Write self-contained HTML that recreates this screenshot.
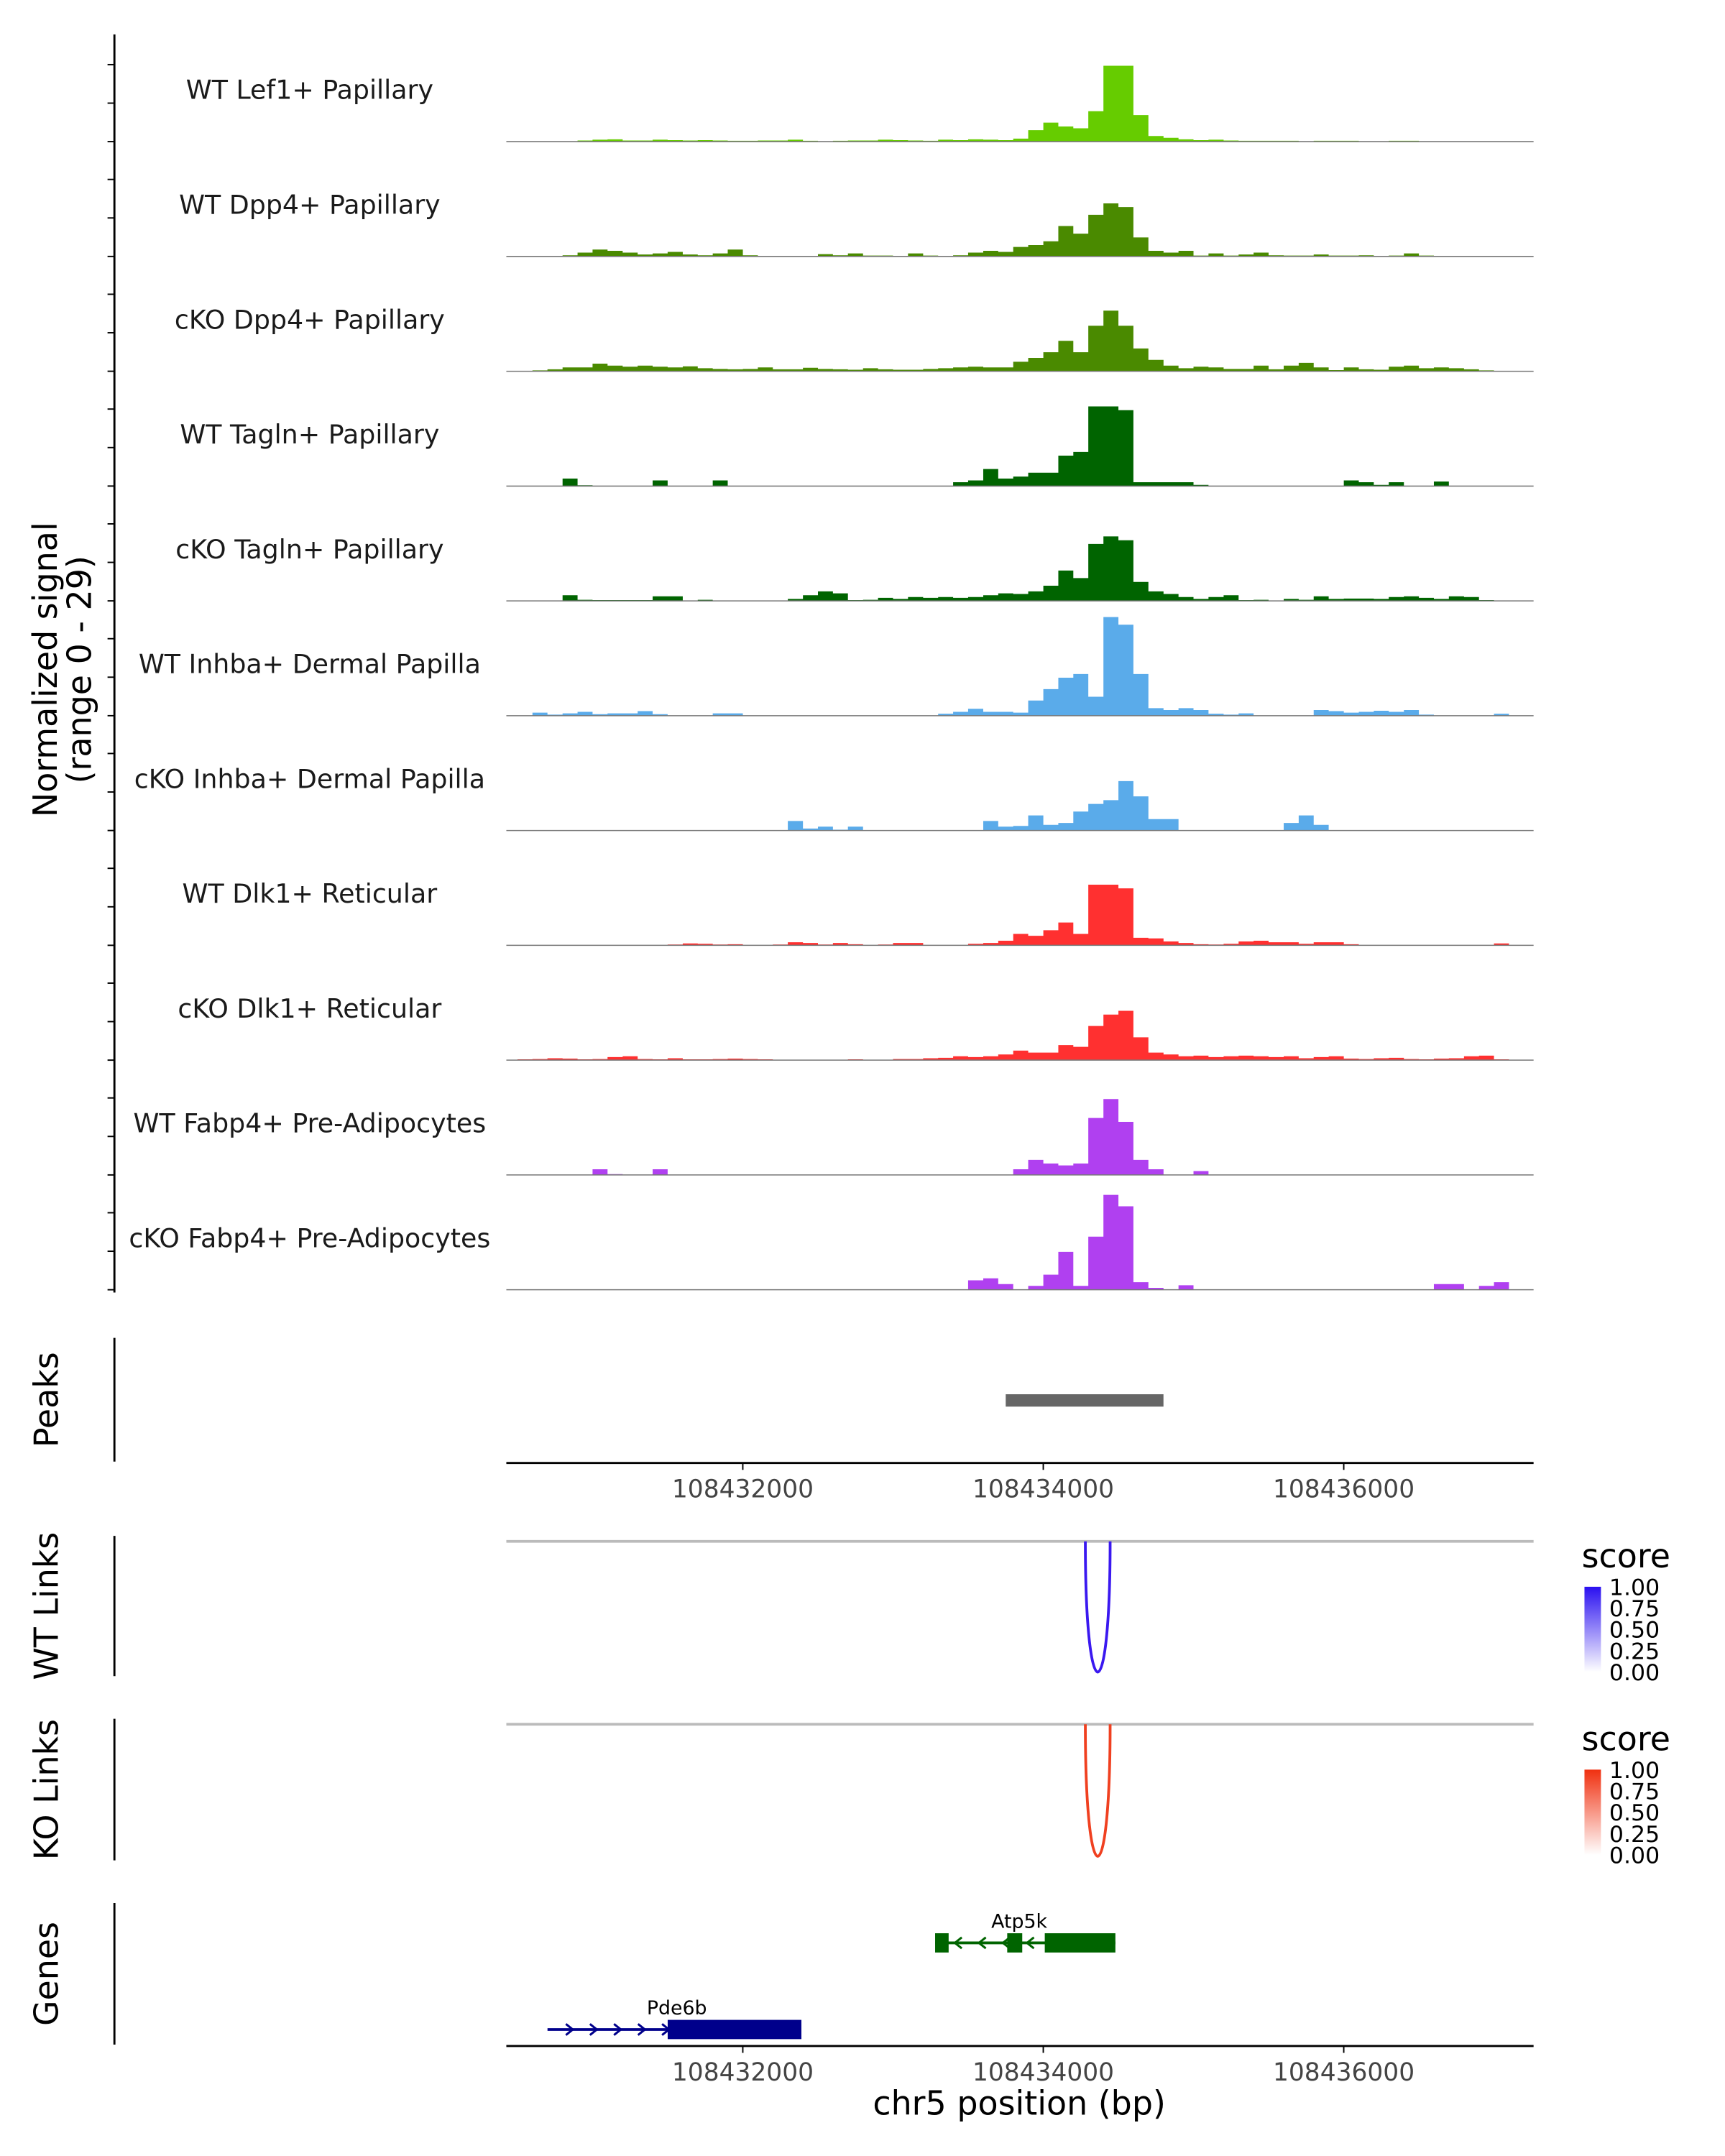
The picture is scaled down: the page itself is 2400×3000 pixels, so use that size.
<!DOCTYPE html>
<html><head><meta charset="utf-8"><style>
html,body{margin:0;padding:0;background:#fff}
svg{display:block}
text{font-family:"DejaVu Sans","Liberation Sans",sans-serif}
</style></head><body>
<svg id="chart" width="2400" height="3000" viewBox="0 0 1254 1568" xmlns="http://www.w3.org/2000/svg">
<g id="tracks"></g>
<g id="rest"></g>
</svg>
<script>
const binStart = 108430500;
const binSize = 100;
const trackNames = ["WT Lef1+ Papillary","WT Dpp4+ Papillary","cKO Dpp4+ Papillary","WT Tagln+ Papillary","cKO Tagln+ Papillary","WT Inhba+ Dermal Papilla","cKO Inhba+ Dermal Papilla","WT Dlk1+ Reticular","cKO Dlk1+ Reticular","WT Fabp4+ Pre-Adipocytes","cKO Fabp4+ Pre-Adipocytes"];
const trackColors = ["#66cc00","#4a8a00","#4a8a00","#006400","#006400","#5aabea","#5aabea","#ff3030","#ff3030","#b040f0","#b040f0"];
const sLef1 = [0,0,0,0,0.3,0.5,0.6,0.3,0.3,0.5,0.4,0.3,0.4,0.3,0.2,0.2,0.3,0.3,0.5,0.2,0,0.2,0.3,0.3,0.5,0.4,0.3,0.2,0.5,0.4,0.6,0.5,0.4,0.8,3,5,4,3.5,8,20,20,7,1.5,1,0.6,0.4,0.5,0.3,0.2,0.2,0.2,0.2,0.1,0.2,0.2,0.2,0.1,0.1,0.2,0.2,0.1,0.1,0.1,0.1,0.1,0.1,0,0];
const sWtDpp4 = [0,0,0,0.3,1,1.8,1.5,1,0.5,0.8,1.2,0.5,0.3,0.8,1.8,0.3,0,0,0,0,0.6,0.3,0.8,0.2,0.2,0,0.8,0.2,0,0.3,1,1.5,1.2,2.5,3,4,8,6,11,14,13,5,1.5,1,1.5,0.2,0.8,0.2,0.5,1,0.3,0.2,0.2,0.5,0.2,0.2,0.3,0,0.2,0.8,0.2,0,0,0,0,0,0,0];
const sKoDpp4 = [0,0.2,0.5,1,1,2,1.5,1.2,1.5,1.2,1,1.3,0.8,0.6,0.5,0.6,1,0.5,0.5,0.9,0.6,0.5,0.4,0.8,0.5,0.4,0.4,0.6,0.8,1,1.2,1,1,2.5,3.5,5,8,5,12,16,12,6,3,1.5,0.8,1.2,1,0.6,0.6,1.5,0.5,1.5,2.2,1,0.3,1,0.5,0.4,1.2,1.5,0.8,1,0.8,0.5,0.2,0,0,0];
const sWtTagln = [0,0,0,2,0.2,0,0,0,0,1.5,0,0,0,1.5,0,0,0,0,0,0,0,0,0,0,0,0,0,0,0,1,1.5,4.5,2,2.5,3.5,3.5,8,9,21,21,20,1,1,1,1,0.3,0,0,0,0,0,0,0,0,0,1.5,1,0.3,1,0,0,1.2,0,0,0,0,0,0];
const sKoTagln = [0,0,0,1.5,0.3,0.2,0.2,0.2,0.2,1.2,1.2,0,0.3,0,0,0,0,0,0.5,1.5,2.5,2,0.2,0.3,0.8,0.5,1,0.8,1,0.8,1,1.5,2,1.8,2.5,4,8,6,15,17,16,5,2.5,1.8,1,0.5,1,1.5,0.2,0.3,0,0.5,0.3,1.2,0.5,0.6,0.6,0.5,1,1.2,0.8,0.5,1.2,1,0.2,0,0,0];
const sWtInhba = [0,0.8,0.3,0.6,1,0.4,0.6,0.6,1.2,0.4,0,0,0,0.6,0.6,0,0,0,0,0,0,0,0,0,0,0,0,0,0.5,1,1.8,1,1,0.8,4,7,10,11,5,26,24,11,2,1.5,2,1.5,0.5,0.3,0.6,0,0,0,0,1.5,1.2,0.8,1,1.3,1,1.5,0.3,0,0,0,0,0.5,0,0];
const sKoInhba = [0,0,0,0,0,0,0,0,0,0,0,0,0,0,0,0,0,0,2.5,0.5,1,0.2,1,0,0,0,0,0,0,0,0,2.5,1,1.2,4,1.5,2,5,7,8,13,9,3,3,0,0,0,0,0,0,0,2,4,1.5,0,0,0,0,0,0,0,0,0,0,0,0,0,0];
const sWtDlk1 = [0,0,0,0,0,0,0,0,0,0,0.2,0.5,0.4,0.2,0.3,0,0,0.2,0.8,0.6,0.2,0.6,0.3,0,0.2,0.6,0.6,0,0,0,0.4,0.6,1.2,3,2.5,4,6,3,16,16,15,2,1.8,1,0.6,0.3,0.2,0.4,1,1.2,0.8,0.8,0.4,0.8,0.8,0.3,0,0,0,0,0,0,0,0,0,0.5,0,0];
const sKoDlk1 = [0.2,0.3,0.5,0.4,0.2,0.3,0.8,1,0.3,0.2,0.5,0.2,0.2,0.3,0.4,0.3,0.2,0,0,0,0,0,0.2,0,0,0.3,0.3,0.5,0.6,1,0.8,1,1.5,2.5,2,2,4,3.5,9,12,13,6,2,1.5,1,1.2,0.8,1,1.2,1,0.8,1,0.5,0.8,1,0.4,0.3,0.5,0.6,0.3,0.2,0.4,0.5,1,1.2,0.2,0,0];
const sWtFabp4 = [0,0,0,0,0,1.5,0.2,0,0,1.5,0,0,0,0,0,0,0,0,0,0,0,0,0,0,0,0,0,0,0,0,0,0,0,1.5,4,3,2.5,3,15,20,14,4,1.5,0,0,1,0,0,0,0,0,0,0,0,0,0,0,0,0,0,0,0,0,0,0,0,0,0];
const sKoFabp4 = [0,0,0,0,0,0,0,0,0,0,0,0,0,0,0,0,0,0,0,0,0,0,0,0,0,0,0,0,0,0,2.5,3,1.5,0,1,4,10,1,14,25,22,2,0.5,0,1.2,0,0,0,0,0,0,0,0,0,0,0,0,0,0,0,0,1.5,1.5,0,1,2,0,0];
const trackSeries = [sLef1,sWtDpp4,sKoDpp4,sWtTagln,sKoTagln,sWtInhba,sKoInhba,sWtDlk1,sKoDlk1,sWtFabp4,sKoFabp4];
const xTicks = [108432000,108434000,108436000];
const peakRegions = [[108433750,108434800]];
const wtLinks = [[108434280,108434445]];
const koLinks = [[108434280,108434445]];
const legendTicks = ["1.00","0.75","0.50","0.25","0.00"];

const NS="http://www.w3.org/2000/svg";
const X0=368, X1=1115, BP0=108430426, PXBP=0.10925;
function xs(bp){return X0+(bp-BP0)*PXBP;}
const YMAX=29, TH=80;
function mk(tag,attrs,parent,txt){const e=document.createElementNS(NS,tag);for(const k in attrs)e.setAttribute(k,attrs[k]);if(txt!==undefined)e.textContent=txt;parent.appendChild(e);return e;}
const G=document.getElementById('tracks'), R=document.getElementById('rest');

let ax=mk('line',{x1:83,y1:25,x2:83,y2:940,stroke:'#000','stroke-width':1.5},G);


trackSeries.forEach((s,t)=>{
  const base=103+t*83.5;
  const g=mk('g',{},G);
  
  
  [0,28,56].forEach(o=>{mk('line',{x1:78,x2:83,y1:base-o,y2:base-o,stroke:'#000','stroke-width':1},g);});
  let d='M'+xs(binStart)+','+base;
  s.forEach((v,i)=>{const xa=xs(binStart+i*binSize),xb=xs(binStart+(i+1)*binSize),y=base-v/YMAX*TH;d+=' L'+xa.toFixed(1)+','+y.toFixed(1)+' L'+xb.toFixed(1)+','+y.toFixed(1);});
  d+=' L'+xs(binStart+s.length*binSize)+','+base+' Z';
  const p=mk('path',{d:d,fill:trackColors[t],stroke:'none'},g);
  
  
  const bl=mk('line',{x1:X0,x2:X1,y1:base,y2:base,stroke:'#777','stroke-width':0.8},g);
  
  
  const lb=mk('text',{x:225,y:base-31,'text-anchor':'middle','font-size':19,fill:'#1a1a1a'},g,trackNames[t]);
  
  
});
let yt=mk('text',{transform:'translate(41,487) rotate(-90)','text-anchor':'middle','font-size':24,fill:'#000'},G,'Normalized signal');


let yt2=mk('text',{transform:'translate(66,487) rotate(-90)','text-anchor':'middle','font-size':24,fill:'#000'},G,'(range 0 - 29)');



function panelLabel(txt,y1,y2,name){
  const l=mk('line',{x1:83,x2:83,y1:y1,y2:y2,stroke:'#000','stroke-width':1.5},R);
  
  
  const t=mk('text',{transform:'translate(42,'+((y1+y2)/2)+') rotate(-90)','text-anchor':'middle','font-size':24,fill:'#000'},R,txt);
  
  
}
panelLabel('Peaks',973,1063,'peaks');
panelLabel('WT Links',1117,1219,'wt-links');
panelLabel('KO Links',1250,1353,'ko-links');
panelLabel('Genes',1384,1487,'genes');

peakRegions.forEach(r=>{
  const pk=mk('rect',{x:xs(r[0]),y:1014,width:xs(r[1])-xs(r[0]),height:9,fill:'#666'},R);
  
  
});

function xAxis(y,name){
  const l=mk('line',{x1:X0,x2:X1,y1:y,y2:y,stroke:'#000','stroke-width':1.5},R);
  
  
  xTicks.forEach(v=>{
    mk('line',{x1:xs(v),x2:xs(v),y1:y,y2:y+5,stroke:'#000','stroke-width':1},R);
    const t=mk('text',{x:xs(v),y:y+25,'text-anchor':'middle','font-size':18,fill:'#444'},R,String(v));
    
    
  });
}
xAxis(1064,'peaks-x-axis');
xAxis(1488,'genes-x-axis');
let xtt=mk('text',{x:741,y:1538,'text-anchor':'middle','font-size':24,fill:'#000'},R,'chr5 position (bp)');



function linkPanel(top,bottom,links,color,gradId,c1,name){
  const gl=mk('line',{x1:X0,x2:X1,y1:top,y2:top,stroke:'#bbb','stroke-width':2},R);
  
  
  links.forEach(k=>{
    const a=xs(k[0]),b=xs(k[1]),c=top+(bottom-top)*4/3;
    const p=mk('path',{d:`M${a},${top} C${a},${c} ${b},${c} ${b},${top}`,fill:'none',stroke:color,'stroke-width':2},R);
    
    
  });
  const defs=mk('defs',{},R);
  const lg=mk('linearGradient',{id:gradId,x1:0,y1:0,x2:0,y2:1},defs);
  mk('stop',{offset:0,'stop-color':c1},lg);mk('stop',{offset:1,'stop-color':'#ffffff'},lg);
  const lt=mk('text',{x:1150,y:top+19,'font-size':24,fill:'#000'},R,'score');
  
  
  const cb=mk('rect',{x:1152,y:top+33,width:12,height:62,fill:`url(#${gradId})`},R);
  
  
  legendTicks.forEach((t,i)=>{
    const y=top+33+i*15.5;
    const tx=mk('text',{x:1170,y:y+6,'font-size':16.5,fill:'#000'},R,t);
    
    
  });
}
linkPanel(1121,1216,wtLinks,'#3a18f0','gWT','#2a10f0','wt-links');
linkPanel(1254,1350,koLinks,'#f04020','gKO','#f03010','ko-links');

function gene(name,y,start,end,exons,strand,color,lx){
  const g=mk('g',{},R);
  
  
  mk('line',{x1:xs(start),x2:xs(end),y1:y,y2:y,stroke:color,'stroke-width':2},g);
  for(let bp=start+150;bp<end;bp+=160){
    const x=xs(bp);
    const inEx=exons.some(e=>bp>=e[0]&&bp<=e[1]);
    if(inEx)continue;
    const d=strand>0?`M${x-3},${y-4} L${x+2},${y} L${x-3},${y+4}`:`M${x+3},${y-4} L${x-2},${y} L${x+3},${y+4}`;
    mk('path',{d:d,fill:'none',stroke:color,'stroke-width':1.6},g);
  }
  exons.forEach(e=>{mk('rect',{x:xs(e[0]),y:y-7,width:xs(e[1])-xs(e[0]),height:14,fill:color},g);});
  mk('text',{x:lx,y:y-11,'text-anchor':'middle','font-size':14,fill:'#000'},g,name);
}
gene('Atp5k',1413,108433280,108434480,[[108433280,108433370],[108433760,108433860],[108434010,108434480]],-1,'#006400',741);
gene('Pde6b',1476,108430700,108432390,[[108431500,108432390]],1,'#00008b',492);
</script>
</body></html>
